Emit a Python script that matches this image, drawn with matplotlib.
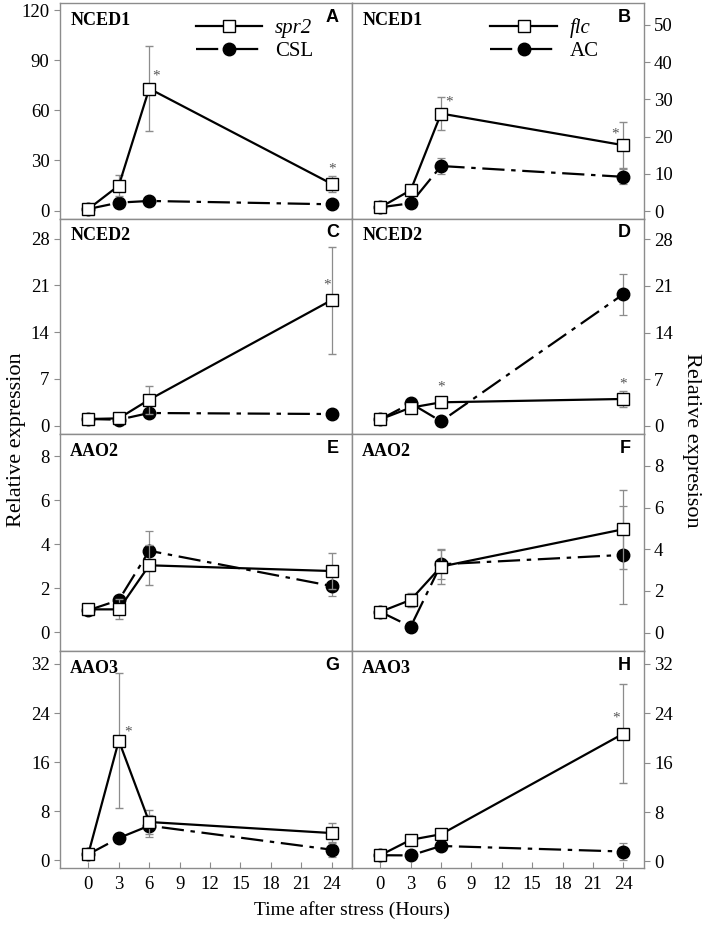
import matplotlib
matplotlib.use("Agg")
import matplotlib.pyplot as plt
from matplotlib.lines import Line2D

plt.rcParams['font.family'] = ['Liberation Serif', 'DejaVu Serif']

hours = [0, 3, 6, 24]

# (mutant mean, mutant err, control mean, control err) per panel
nced1_spr2 = [1, 15, 73, 16]
nced1_spr2_err = [0.5, 6.5, 25.6, 5]
nced1_csl = [1, 4.8, 5.8, 3.8]
nced1_csl_err = [0.3, 0.6, 0.6, 0.5]

nced1_flc = [1, 5.6, 26.2, 17.7]
nced1_flc_err = [0.3, 0.6, 4.4, 6.1]
nced1_ac = [1, 2.1, 12.1, 9.2]
nced1_ac_err = [0.2, 0.3, 2.1, 2.0]

nced2_spr2 = [1, 1.1, 3.9, 18.8]
nced2_spr2_err = [0.2, 0.3, 2.1, 8.0]
nced2_csl = [1, 0.9, 1.9, 1.75]
nced2_csl_err = [0.1, 0.1, 0.2, 0.2]

nced2_flc = [1, 2.75, 3.55, 4.05]
nced2_flc_err = [0.2, 0.4, 0.8, 1.2]
nced2_ac = [1, 3.4, 0.7, 19.75]
nced2_ac_err = [0.1, 0.3, 0.2, 3.1]

aao2_spr2 = [1.04, 1.04, 3.04, 2.78]
aao2_spr2_err = [0.1, 0.45, 0.9, 0.8]
aao2_csl = [1.0, 1.46, 3.7, 2.1]
aao2_csl_err = [0.1, 0.1, 0.9, 0.45]

aao2_flc = [1.0, 1.57, 3.17, 4.96]
aao2_flc_err = [0.1, 0.35, 0.85, 1.9]
aao2_ac = [1.0, 0.29, 3.28, 3.73]
aao2_ac_err = [0.1, 0.05, 0.7, 2.35]

aao3_spr2 = [1.1, 19.5, 6.25, 4.45]
aao3_spr2_err = [0.3, 11.0, 2.0, 1.6]
aao3_csl = [1.0, 3.64, 5.65, 1.74]
aao3_csl_err = [0.2, 0.3, 1.8, 1.2]

aao3_flc = [1.0, 3.5, 4.4, 20.7]
aao3_flc_err = [0.2, 0.3, 0.3, 8.0]
aao3_ac = [1.0, 0.97, 2.5, 1.6]
aao3_ac_err = [0.2, 0.1, 0.3, 1.4]

genes = ["NCED1", "NCED1", "NCED2", "NCED2", "AAO2", "AAO2", "AAO3", "AAO3"]
letters = list("ABCDEFGH")
star_hours = [[6, 24], [6, 24], [24], [6, 24], [], [], [3], [24]]

panels = [
    (nced1_spr2, nced1_spr2_err, nced1_csl, nced1_csl_err),
    (nced1_flc, nced1_flc_err, nced1_ac, nced1_ac_err),
    (nced2_spr2, nced2_spr2_err, nced2_csl, nced2_csl_err),
    (nced2_flc, nced2_flc_err, nced2_ac, nced2_ac_err),
    (aao2_spr2, aao2_spr2_err, aao2_csl, aao2_csl_err),
    (aao2_flc, aao2_flc_err, aao2_ac, aao2_ac_err),
    (aao3_spr2, aao3_spr2_err, aao3_csl, aao3_csl_err),
    (aao3_flc, aao3_flc_err, aao3_ac, aao3_ac_err),
]

yticks = [
    [0, 30, 60, 90, 120], [0, 10, 20, 30, 40, 50],
    [0, 7, 14, 21, 28], [0, 7, 14, 21, 28],
    [0, 2, 4, 6, 8], [0, 2, 4, 6, 8],
    [0, 8, 16, 24, 32], [0, 8, 16, 24, 32],
]
ylims = [(-4.7, 124.2), (-2.0, 55.9), (-1.24, 31.0), (-1.2, 31.1),
         (-0.85, 9.0), (-0.88, 9.53), (-1.24, 34.1), (-1.07, 34.1)]

# asterisk offsets in points relative to the marker
star_offset = {
    (0, 6): (5, 9), (0, 24): (0, 11), (1, 6): (6, 8), (1, 24): (-6, 8),
    (2, 24): (-3, 11), (3, 6): (0, 11), (3, 24): (0, 11), (6, 3): (7, 6),
    (7, 24): (-5, 11),
}

W, H = 708, 933
fig = plt.figure(figsize=(W / 100, H / 100), dpi=100)

cols = [(60, 352), (352, 643.5)]
rows = [(3, 218.5), (218.5, 434), (434, 651), (651, 868)]
grey = "#8c8c8c"
dashdot = (0, (10, 3, 2, 3))

for i, (mut, mut_err, ctl, ctl_err) in enumerate(panels):
    r, c = divmod(i, 2)
    x0, x1 = cols[c]
    y0, y1 = rows[r]
    ax = fig.add_axes([x0 / W, 1 - y1 / H, (x1 - x0) / W, (y1 - y0) / H])

    ax.errorbar(hours, ctl, yerr=ctl_err, color="black", ls=dashdot,
                lw=1.6, marker="o", ms=9, mfc="black", mec="black",
                ecolor=grey, elinewidth=0.9, capsize=3, capthick=0.9, zorder=2)
    ax.errorbar(hours, mut, yerr=mut_err, color="black", ls="-", lw=1.6,
                marker="s", ms=8.5, mfc="white", mec="black", mew=1.0,
                ecolor=grey, elinewidth=0.9, capsize=3, capthick=0.9, zorder=3)

    for h in star_hours[i]:
        k = hours.index(h)
        ax.annotate("*", (h, mut[k]), xytext=star_offset[(i, h)],
                    textcoords="offset points", ha="center", va="center",
                    fontsize=11, color="#555555")

    ax.set_xlim(-2.8, 26.0)
    ax.set_ylim(*ylims[i])
    ax.set_yticks(yticks[i])
    ax.set_xticks(range(0, 25, 3))
    for s in ax.spines.values():
        s.set_color(grey)
        s.set_linewidth(1.0)
    ax.tick_params(axis="x", direction="in", length=4, color=grey,
                   labelsize=13.5, pad=6)
    ax.tick_params(axis="y", direction="out", length=4, color=grey,
                   labelsize=13.5)
    if r < 3:
        ax.tick_params(axis="x", labelbottom=False, length=0)
    if c == 1:
        ax.yaxis.tick_right()
        ax.tick_params(axis="y", which="both", left=False)

    ax.text(0.035, 0.92, genes[i], transform=ax.transAxes, fontsize=13,
            fontweight="bold", va="center", ha="left")
    ax.text(0.955, 0.935, letters[i], transform=ax.transAxes, fontsize=13,
            fontweight="bold", family="Liberation Sans", va="center",
            ha="right")

    if r == 0:
        names = ("spr2", "CSL") if c == 0 else ("flc", "AC")
        handles = [
            Line2D([], [], color="black", lw=1.6, marker="s", ms=8.5,
                   mfc="white", mec="black"),
            Line2D([], [], color="black", lw=1.6, ls=dashdot,
                   marker="o", ms=9, mfc="black"),
        ]
        leg = ax.legend(handles, names, loc="upper left",
                        bbox_to_anchor=(0.40 if c == 0 else 0.41, 1.015),
                        frameon=False, fontsize=15, handlelength=3.2,
                        handletextpad=0.6, labelspacing=0.15)
        leg.get_texts()[0].set_fontstyle("italic")

fig.text(17 / W, 1 - 440 / H, "Relative expression", rotation=90,
         ha="center", va="center", fontsize=16)
fig.text(692 / W, 1 - 440 / H, "Relative expresison", rotation=-90,
         ha="center", va="center", fontsize=16)
fig.text(352 / W, 1 - 910 / H, "Time after stress (Hours)", ha="center",
         va="center", fontsize=14)

fig.savefig("out.png", dpi=100)
